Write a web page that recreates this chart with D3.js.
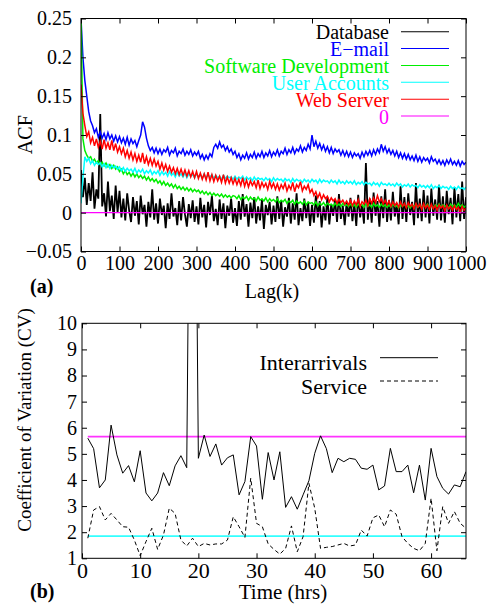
<!DOCTYPE html>
<html><head><meta charset="utf-8"><script src="https://cdn.jsdelivr.net/npm/d3@7"></script></head>
<body style="margin:0">
<script>
// ---- panel (a): autocorrelation, values in units of 0.001, lag 0..1000 every 5
const lagStep = 5;
const acfDatabase = [
  55,20,45,10,38,15,52,5,30,18,127,8,25,-5,40,2,22,-8,35,0,
  28,-6,18,-10,25,3,-12,20,-4,15,-15,22,-2,10,-18,14,-6,30,-9,12,
  -14,18,-3,9,-20,12,-8,25,-5,6,-16,15,-10,20,-2,-18,11,-7,16,-12,
  8,-15,19,-6,10,-19,14,-3,22,-11,5,-16,17,-8,12,-20,9,-4,18,-13,
  6,-17,15,-9,24,-5,11,-18,13,-7,20,-14,8,-10,17,-21,10,-3,14,-15,
  9,-12,21,-8,16,-18,7,-5,19,-14,12,-9,25,-16,6,-11,18,-7,13,-17,
  10,-13,22,-6,15,-19,8,-10,20,-15,11,-4,17,-12,24,-8,9,-16,14,-5,
  19,-11,12,-17,23,-6,10,-14,64,-9,18,-13,26,-4,15,-18,21,-7,30,-12,
  16,-10,27,-5,12,-15,34,-8,20,-12,25,-3,14,-16,38,-7,18,-11,29,-6,
  22,-14,31,-4,17,-9,36,-10,21,-13,28,-2,19,-15,33,-6,24,-11,40,-8,20
];
const acfEmail = [
  250,200,170,150,130,118,112,103,108,97,104,96,102,94,103,95,100,92,99,91,
  98,90,96,88,97,87,95,89,93,85,93,100,117,110,96,86,80,84,77,83,
  76,82,75,81,78,84,74,80,77,83,73,79,76,82,74,79,75,81,73,78,
  74,79,70,75,68,74,69,76,72,84,88,83,91,84,87,80,85,78,82,75,
  79,71,76,68,74,70,77,69,75,71,78,70,76,72,79,71,77,73,80,72,
  78,74,81,73,79,76,83,75,81,77,84,76,82,79,86,78,84,80,88,82,
  100,85,92,83,89,81,87,79,85,77,84,76,82,78,81,74,80,73,79,72,
  78,71,77,73,76,70,78,72,79,74,80,73,81,75,82,77,88,79,85,77,
  82,75,80,73,79,71,77,70,76,69,75,68,73,67,74,66,72,65,71,67,
  70,64,72,66,69,63,68,62,67,61,68,63,69,62,66,61,67,60,66,62,65
];
const acfSoftware = [
  260,95,80,74,70,72,66,69,64,67,62,65,60,64,59,62,57,61,56,59,
  53,56,50,54,49,52,47,51,46,50,45,48,44,47,42,46,41,44,40,43,
  38,41,36,40,35,38,34,37,32,36,31,34,30,33,29,32,28,31,27,30,
  27,29,25,28,24,27,23,26,22,25,22,24,21,24,20,23,20,22,19,22,
  21,18,22,17,20,18,21,16,20,17,19,15,20,16,18,15,19,14,18,15,
  17,14,18,13,16,14,17,12,15,13,16,11,15,12,14,11,15,10,14,12,
  13,10,14,9,12,10,13,9,12,10,11,8,12,9,11,8,12,9,10,8,
  11,8,10,7,11,9,10,7,11,8,10,7,12,8,10,7,11,8,10,7,
  10,7,11,8,9,6,10,8,11,7,9,6,10,8,11,7,9,7,10,8,
  11,7,9,6,10,8,11,7,10,8,9,6,11,8,10,7,12,8,10,7,9
];
const acfUsers = [
  12,45,72,66,70,63,67,61,65,62,64,59,63,58,62,57,61,58,60,56,
  59,54,58,53,57,54,56,52,57,51,55,52,56,50,54,51,55,49,53,50,
  54,48,53,49,52,47,53,48,51,46,52,47,50,46,51,45,50,47,49,45,
  50,46,49,44,50,45,48,46,49,44,48,45,47,43,48,44,47,45,46,43,
  47,43,46,44,47,42,46,43,45,41,46,42,45,43,44,41,45,42,44,40,
  45,41,44,42,43,40,44,41,43,39,44,40,43,41,42,39,43,40,42,39,
  43,40,42,38,43,39,42,40,41,38,42,39,41,37,42,38,40,37,41,38,
  40,37,41,36,39,37,40,36,39,37,38,35,39,36,38,34,39,36,37,35,
  38,35,37,34,38,35,37,33,36,34,37,33,36,34,35,32,36,33,35,32,
  35,32,36,31,34,32,35,31,34,32,33,30,34,31,33,30,34,31,32,30,33
];
const acfWeb = [
  165,128,112,98,104,90,97,86,95,84,92,82,94,83,90,81,93,80,89,78,
  85,76,83,72,80,70,78,68,76,66,74,65,77,63,72,62,70,61,69,60,
  66,56,64,55,62,53,60,52,58,50,57,49,56,48,55,47,54,46,53,45,
  53,44,51,43,50,42,52,41,49,40,48,41,47,39,49,38,46,38,45,37,
  44,36,43,35,45,34,42,33,41,35,40,32,42,31,39,33,38,30,40,32,
  38,30,37,29,36,31,38,28,35,30,39,27,36,32,40,28,34,30,36,26,
  30,22,27,19,25,17,23,18,21,14,19,15,18,12,17,13,16,11,15,10,
  16,9,15,10,17,8,14,11,16,9,18,12,19,13,22,14,18,11,16,10,
  15,8,14,9,13,7,14,8,12,6,13,8,11,5,12,7,11,4,12,6,
  10,4,11,5,9,3,10,6,9,2,10,5,8,3,9,4,7,1,8,3,6
];
const acfNames = ["Database", "E\u2212mail", "Software Development", "User Accounts", "Web Server", "0"];
const acfColors = ["#000000", "#0000ff", "#00ee00", "#00ffff", "#ff0000", "#ff00ff"];
const zeroLine = [[0, 0], [1000, 0]];
const lagTicks = [0, 100, 200, 300, 400, 500, 600, 700, 800, 900, 1000];
const acfTicks = [-0.05, 0, 0.05, 0.1, 0.15, 0.2, 0.25];

// ---- panel (b): coefficient of variation per hour
const hours = [1,2,3,4,5,6,7,8,9,10,11,12,13,14,15,16,17,18,19,20,21,22,23,24,25,26,27,28,29,30,31,32,33,
  34,35,36,37,38,39,40,41,42,43,44,45,46,47,48,49,50,51,52,53,54,55,56,57,58,59,60,61,62,63,64,65,66];
const cvInterarrivals = [5.6,5.2,3.7,4.0,6.1,4.96,4.26,4.55,3.93,5.12,3.5,3.2,3.5,4.28,3.78,4.54,4.93,4.47,30,4.83,
  5.72,4.9,5.38,4.57,4.85,4.96,3.43,3.94,5.66,5.3,3.26,5.05,4.0,5.08,2.95,3.36,2.88,3.43,3.97,5.02,
  5.69,5.2,4.28,4.83,4.7,4.83,4.79,4.45,4.41,4.57,3.62,3.77,5.21,4.32,4.32,4.57,3.51,4.57,3.23,5.21,
  4.13,3.68,3.46,3.81,3.74,4.32];
const cvService = [1.77,2.85,2.98,2.47,2.72,2.47,2.21,2.19,1.70,1.1,1.64,2.15,1.34,1.89,2.92,2.72,1.70,1.47,1.77,1.45,
  1.57,1.51,1.55,1.55,1.70,2.59,2.21,1.80,4.07,2.34,2.21,1.55,1.34,1.16,1.38,2.24,1.25,1.83,3.87,2.92,
  1.38,1.42,1.45,1.51,1.57,1.47,1.51,2.08,1.85,2.55,2.66,2.21,2.85,2.69,1.83,1.57,1.38,1.29,1.57,3.30,
  1.29,2.98,2.34,2.79,2.34,2.15];
const cvInterMean = 5.66;
const cvServiceMean = 1.85;
const hourTicks = [0, 10, 20, 30, 40, 50, 60];
const cvTicks = [1, 2, 3, 4, 5, 6, 7, 8, 9, 10];

const width = 493, height = 604;
const FONT = '"Liberation Serif"';

const svg = d3.select("body").append("svg")
    .attr("width", width)
    .attr("height", height);

svg.append("rect").attr("width", width).attr("height", height).attr("fill", "#fff");

function styleAxis(g, size) {
    g.attr("font-family", null).attr("font-size", null);
    g.select(".domain").remove();
    g.selectAll(".tick line").attr("stroke", "#000");
    g.selectAll("text")
        .style("font-family", FONT)
        .attr("font-size", size)
        .attr("fill", "#000");
}

function addText(x, y, size, str) {
    return svg.append("text")
        .attr("x", x).attr("y", y)
        .style("font-family", FONT)
        .attr("font-size", size)
        .text(str);
}

function frame(x0, x1, y0, y1) {
    svg.append("rect")
        .attr("x", x0).attr("y", y0)
        .attr("width", x1 - x0).attr("height", y1 - y0)
        .attr("fill", "none").attr("stroke", "#000").attr("stroke-width", 1);
}

// ================= panel (a)
const aL = 81, aR = 466, aT = 18.5, aB = 251.5;
const xA = d3.scaleLinear().domain([0, 1000]).range([aL, aR]);
const yA = d3.scaleLinear().domain([-0.05, 0.25]).range([aB, aT]);

svg.append("clipPath").attr("id", "clipA")
    .append("rect").attr("x", aL).attr("y", aT).attr("width", aR - aL).attr("height", aB - aT);

const acfSeries = [acfDatabase, acfEmail, acfSoftware, acfUsers, acfWeb];
const acfLine = d3.line()
    .x((d, i) => xA(i * lagStep))
    .y(d => yA(d / 1000));

const gA = svg.append("g").attr("clip-path", "url(#clipA)");
acfSeries.forEach((s, k) => {
    gA.append("path")
        .datum(s)
        .attr("d", acfLine)
        .attr("fill", "none")
        .attr("stroke", acfColors[k])
        .attr("stroke-width", k === 0 ? 1.8 : 1.5);
});
gA.append("path")
    .datum(zeroLine)
    .attr("d", d3.line().x(d => xA(d[0])).y(d => yA(d[1])))
    .attr("fill", "none")
    .attr("stroke", acfColors[5])
    .attr("stroke-width", 1.1);

svg.append("g").attr("transform", `translate(0,${aB})`)
    .call(d3.axisBottom(xA).tickValues(lagTicks).tickSize(-5).tickPadding(4).tickFormat(d3.format("d")))
    .call(g => styleAxis(g, 20));
svg.append("g").attr("transform", `translate(0,${aT})`)
    .call(d3.axisTop(xA).tickValues(lagTicks).tickSize(-5).tickFormat(""))
    .call(g => styleAxis(g, 20));
svg.append("g").attr("transform", `translate(${aL},0)`)
    .call(d3.axisLeft(yA).tickValues(acfTicks).tickSize(-5).tickPadding(9).tickFormat(d3.format("~g")))
    .call(g => styleAxis(g, 20));
svg.append("g").attr("transform", `translate(${aR},0)`)
    .call(d3.axisRight(yA).tickValues(acfTicks).tickSize(-5).tickFormat(""))
    .call(g => styleAxis(g, 20));
frame(aL, aR, aT, aB);

// legend (a)
acfNames.forEach((name, k) => {
    const y = 31.7 + k * 16.87;
    addText(389, y + 7.5, 20, name)
        .attr("text-anchor", "end")
        .attr("fill", acfColors[k]);
    svg.append("line")
        .attr("x1", 401).attr("x2", 449).attr("y1", y).attr("y2", y)
        .attr("stroke", acfColors[k]).attr("stroke-width", 1.1);
});

addText(0, 0, 20, "ACF")
    .attr("transform", "translate(31.5,134.7) rotate(-90)")
    .attr("text-anchor", "middle");
addText(272, 298, 20, "Lag(k)").attr("text-anchor", "middle");
addText(30, 293, 20, "(a)").attr("font-weight", "bold");

// ================= panel (b)
const bL = 82, bR = 466, bT = 323.3, bB = 558.3;
const xB = d3.scaleLinear().domain([0, 66]).range([bL, bR]);
const yB = d3.scaleLinear().domain([1, 10]).range([bB, bT]);

svg.append("clipPath").attr("id", "clipB")
    .append("rect").attr("x", bL).attr("y", bT).attr("width", bR - bL).attr("height", bB - bT);

const cvLine = d3.line()
    .x((d, i) => xB(hours[i]))
    .y(d => yB(d));

const gB = svg.append("g").attr("clip-path", "url(#clipB)");
gB.append("path")
    .datum(hours.map(() => cvInterMean))
    .attr("d", cvLine)
    .attr("fill", "none").attr("stroke", "#ff33ff").attr("stroke-width", 1.6);
gB.append("path")
    .datum(hours.map(() => cvServiceMean))
    .attr("d", cvLine)
    .attr("fill", "none").attr("stroke", "#33ffff").attr("stroke-width", 1.6);
gB.append("path")
    .datum(cvInterarrivals)
    .attr("d", cvLine)
    .attr("fill", "none").attr("stroke", "#000").attr("stroke-width", 1);
gB.append("path")
    .datum(cvService)
    .attr("d", cvLine)
    .attr("fill", "none").attr("stroke", "#000").attr("stroke-width", 1)
    .attr("stroke-dasharray", "4,3");

svg.append("g").attr("transform", `translate(0,${bB})`)
    .call(d3.axisBottom(xB).tickValues(hourTicks).tickSize(-5).tickPadding(4).tickFormat(d3.format("d")))
    .call(g => styleAxis(g, 22));
svg.append("g").attr("transform", `translate(0,${bT})`)
    .call(d3.axisTop(xB).tickValues(hourTicks).tickSize(-5).tickFormat(""))
    .call(g => styleAxis(g, 22));
svg.append("g").attr("transform", `translate(${bL},0)`)
    .call(d3.axisLeft(yB).tickValues(cvTicks).tickSize(-5).tickPadding(5).tickFormat(d3.format("d")))
    .call(g => styleAxis(g, 20));
svg.append("g").attr("transform", `translate(${bR},0)`)
    .call(d3.axisRight(yB).tickValues(cvTicks).tickSize(-5).tickFormat(""))
    .call(g => styleAxis(g, 20));
frame(bL, bR, bT, bB);

// legend (b)
const legB = [["Interarrivals", null, 357.7], ["Service", "4,3", 381]];
legB.forEach(([name, dash, y]) => {
    addText(367, y + 12.5, 22, name).attr("text-anchor", "end");
    svg.append("line")
        .attr("x1", 380).attr("x2", 438).attr("y1", y).attr("y2", y)
        .attr("stroke", "#000").attr("stroke-width", 1)
        .attr("stroke-dasharray", dash);
});

addText(0, 0, 19, "Coefficient of Variation (CV)")
    .attr("transform", "translate(31,420) rotate(-90)")
    .attr("text-anchor", "middle");
addText(283, 599, 21, "Time (hrs)").attr("text-anchor", "middle");
addText(30, 598, 20, "(b)").attr("font-weight", "bold");
</script>
</body>
</html>
